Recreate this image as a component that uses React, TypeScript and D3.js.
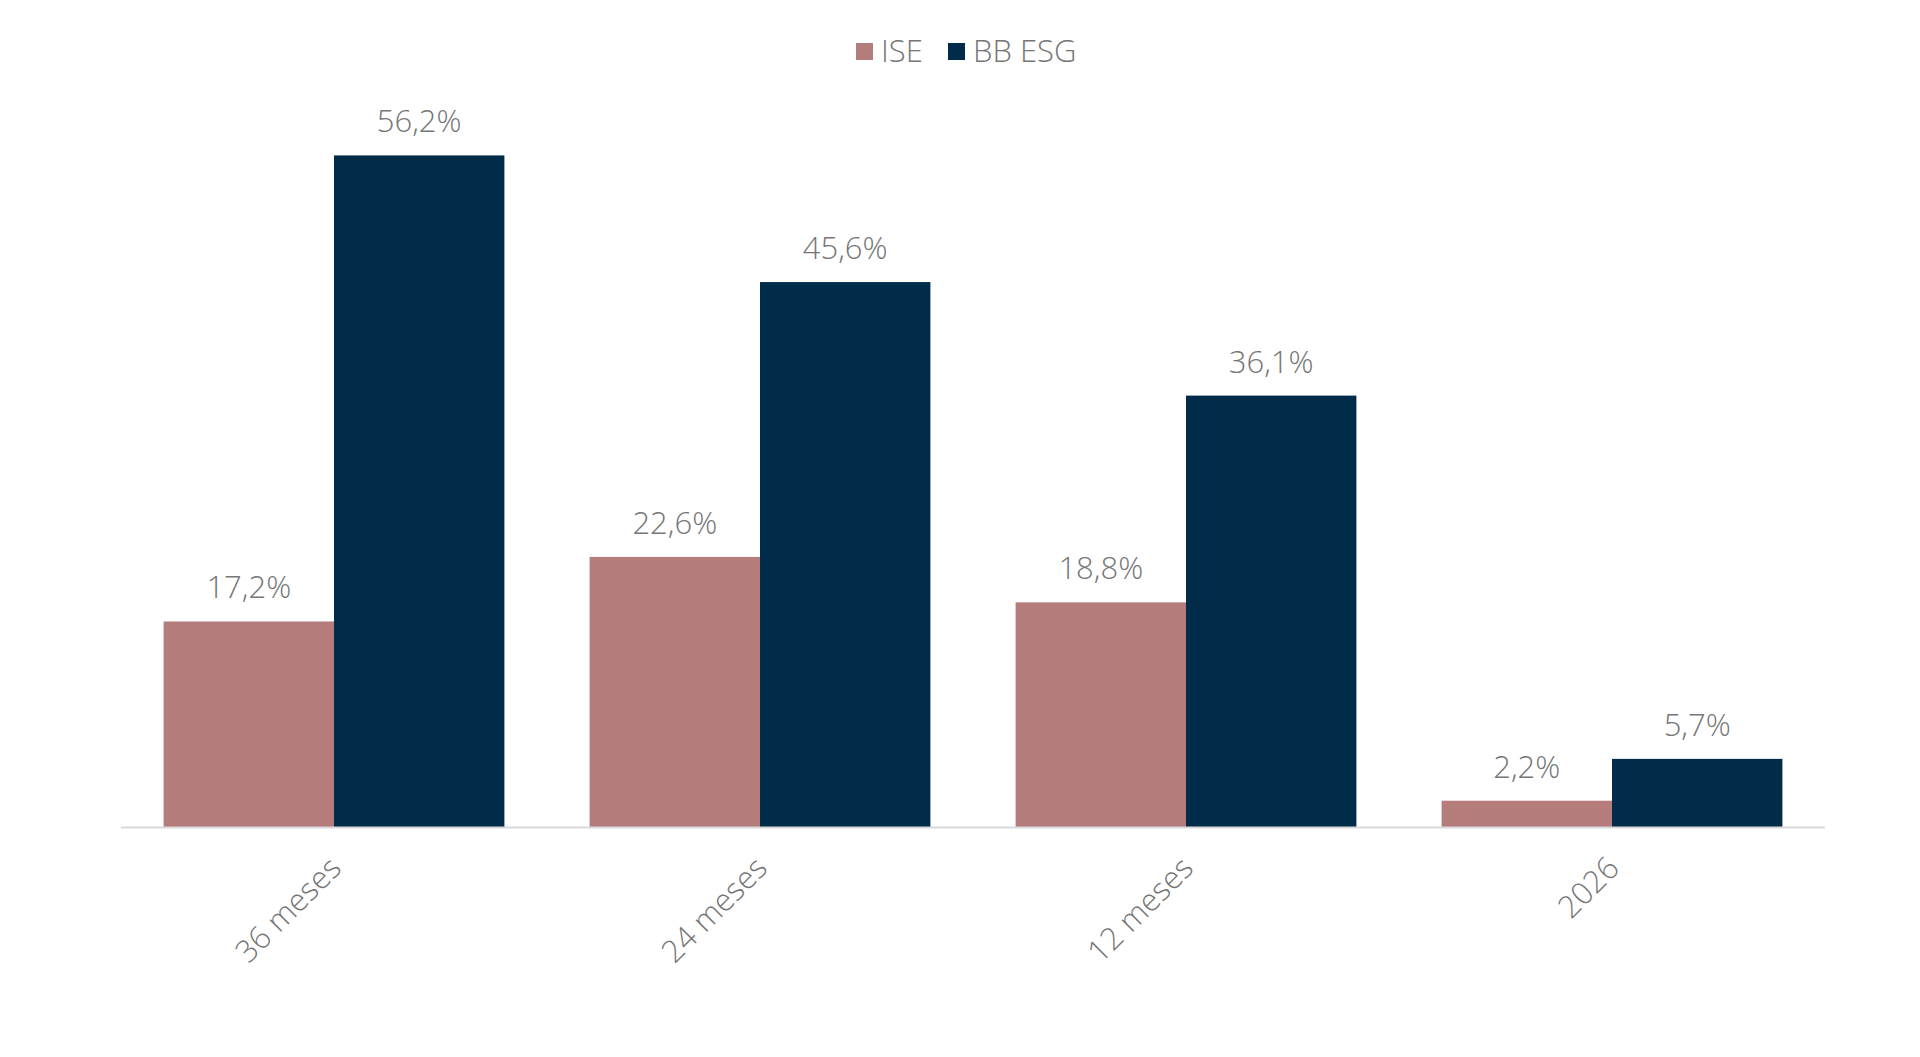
import React, { useEffect, useRef } from 'react';
import * as d3 from 'd3';

// chart data
const categories = ['36 meses', '24 meses', '12 meses', '2026'];
const seriesNames = ['ISE', 'BB ESG'];
const iseValues = [17.2, 22.6, 18.8, 2.2];
const bbEsgValues = [56.2, 45.6, 36.1, 5.7];
const colors = ['#b47d7c', '#002b49'];

const fmt = (v: number) => v.toFixed(1).replace('.', ',') + '%';

const App: React.FC = () => {
  const chartRef = useRef<SVGSVGElement>(null);

  useEffect(() => {
    if (!chartRef.current) return;
    document.body.style.margin = '0';

    const width = 1920;
    const height = 1057;
    const font = "'Open Sans', 'DejaVu Sans', sans-serif";
    const textColor = '#767676';

    const svg = d3.select(chartRef.current);
    svg.selectAll('*').remove();

    const x0 = d3.scaleBand()
      .domain(categories)
      .range([121, 1825])
      .paddingInner(0.2)
      .paddingOuter(0.1);

    const x1 = d3.scaleBand()
      .domain(seriesNames)
      .range([0, x0.bandwidth()]);

    const y = d3.scaleLinear()
      .domain([0, 60])
      .range([827, 827 - 60 * 11.95]);

    const rows = categories.map((c, i) => ({
      category: c,
      values: [iseValues[i], bbEsgValues[i]],
    }));

    // bars
    const groups = svg.append('g')
      .selectAll('g')
      .data(rows)
      .enter()
      .append('g')
      .attr('transform', d => `translate(${x0(d.category)},0)`);

    groups.selectAll('rect')
      .data(d => d.values.map((v, i) => ({ key: seriesNames[i], value: v, i })))
      .enter()
      .append('rect')
      .attr('x', d => x1(d.key) ?? 0)
      .attr('y', d => y(d.value))
      .attr('width', x1.bandwidth())
      .attr('height', d => y(0) - y(d.value))
      .attr('fill', d => colors[d.i]);

    // data labels
    groups.selectAll('text')
      .data(d => d.values.map((v, i) => ({ key: seriesNames[i], value: v })))
      .enter()
      .append('text')
      .attr('x', d => (x1(d.key) ?? 0) + x1.bandwidth() / 2)
      .attr('y', d => y(d.value) - 23)
      .attr('text-anchor', 'middle')
      .style('font-family', font)
      .style('font-weight', 300)
      .style('font-size', '31px')
      .style('fill', textColor)
      .text(d => fmt(d.value));

    // x axis line
    svg.append('line')
      .attr('x1', x0.range()[0])
      .attr('x2', x0.range()[1])
      .attr('y1', y(0) + 0.5)
      .attr('y2', y(0) + 0.5)
      .attr('stroke', '#d9d9d9')
      .attr('stroke-width', 2);

    // category labels, rotated
    svg.append('g')
      .selectAll('text')
      .data(categories)
      .enter()
      .append('text')
      .attr('transform', d => `translate(${(x0(d) ?? 0) + x0.bandwidth() / 2 + 9},${y(0) + 43}) rotate(-45)`)
      .attr('text-anchor', 'end')
      .style('font-family', font)
      .style('font-weight', 300)
      .style('font-size', '31px')
      .style('fill', textColor)
      .text(d => d);

    // legend
    const legendItems = [
      { name: seriesNames[0], color: colors[0], x: 856 },
      { name: seriesNames[1], color: colors[1], x: 948 },
    ];
    const legend = svg.append('g')
      .selectAll('g')
      .data(legendItems)
      .enter()
      .append('g')
      .attr('transform', d => `translate(${d.x},43)`);

    legend.append('rect')
      .attr('width', 17)
      .attr('height', 17)
      .attr('fill', d => d.color);

    legend.append('text')
      .attr('x', 25)
      .attr('y', 19)
      .style('font-family', font)
      .style('font-weight', 300)
      .style('font-size', '31px')
      .style('fill', textColor)
      .text(d => d.name);

    svg.attr('width', width).attr('height', height);
  }, []);

  return (
    <svg
      ref={chartRef}
      width={1920}
      height={1057}
      style={{ display: 'block', background: '#ffffff' }}
    />
  );
};

export default App;
